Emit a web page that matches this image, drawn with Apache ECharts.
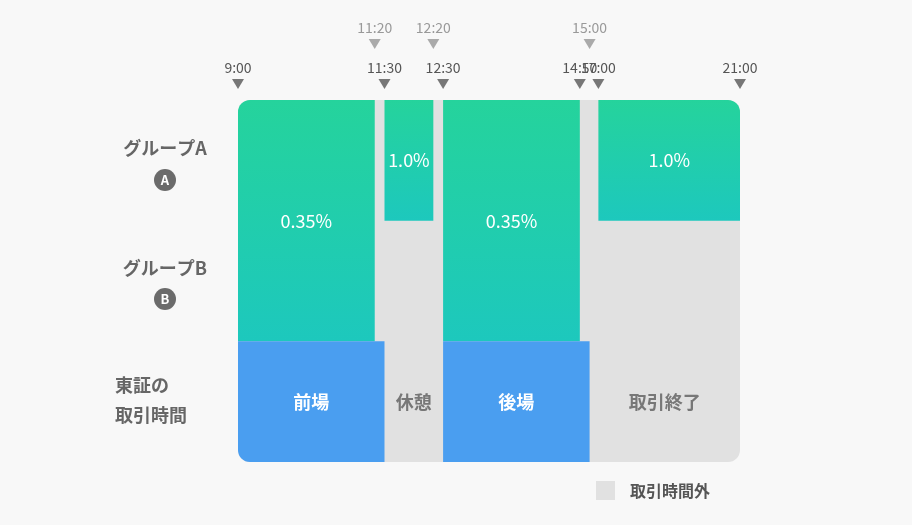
<!DOCTYPE html><html><head><meta charset="utf-8"><script src="https://cdn.jsdelivr.net/npm/echarts@6/dist/echarts.min.js"></script>
<style>html,body{margin:0;background:#f8f8f8}#c{width:912px;height:525px}</style></head><body><div id="c"></div><script>
const greenBars=[["9:00","11:20",0,2,"0.35%"],["11:30","12:20",0,1,"1.0%"],["12:30","14:50",0,2,"0.35%"],["17:00","21:00",0,1,"1.0%"]];
const blueBars=[["9:00","11:30","前場"],["12:30","15:00","後場"]];
const grayLabels=[["11:30","12:30","休憩"],["15:00","21:00","取引終了"]];
const upperTicks=["11:20","12:20","15:00"];
const lowerTicks=["9:00","11:30","12:30","14:50","17:00","21:00"];
const rowLabels=[["グループA","A"],["グループB","B"]];
const m=t=>{const[a,b]=t.split(":");return +a*60+ +b;};
const MIN=540,MAX=1260,R=12;
const FONT='"Noto Sans CJK JP",sans-serif';
const green={type:'linear',x:0,y:0,x2:0,y2:1,global:false,colorStops:[{offset:0,color:'#25d39c'},{offset:1,color:'#1dc8bd'}]};
function rectItem(api,s,e,y0,y1,fill,text,tcolor,weight){
  const p0=api.coord([s,y0]),p1=api.coord([e,y1]);
  const r=[0,0,0,0];
  if(s===MIN&&y0===0)r[0]=R; if(e===MAX&&y0===0)r[1]=R;
  if(e===MAX&&y1===3)r[2]=R; if(s===MIN&&y1===3)r[3]=R;
  return {type:'rect',shape:{x:p0[0],y:p0[1],width:p1[0]-p0[0],height:p1[1]-p0[1],r:r},style:{fill:fill},
    textContent:text?{style:{text:text,fill:tcolor,font:weight+' 18px '+FONT}}:undefined,textConfig:{position:'inside'}};
}
const chart=echarts.init(document.getElementById('c'));
chart.setOption({
  backgroundColor:'#f8f8f8',animation:false,
  grid:{left:238,right:172,top:100,bottom:63},
  xAxis:{type:'value',min:MIN,max:MAX,show:false,breaks:[{start:900,end:1020,gap:9},{start:1080,end:1176,gap:1}],breakArea:{show:false}},
  yAxis:{type:'value',min:0,max:3,inverse:true,show:false},
  series:[
    {type:'custom',data:[[MIN,MAX]],renderItem:(p,api)=>rectItem(api,MIN,MAX,0,3,'#e1e1e1')},
    {type:'custom',data:grayLabels.map(d=>[m(d[0]),m(d[1]),d[2]]),renderItem:(p,api)=>{const d=grayLabels[p.dataIndex];return rectItem(api,m(d[0]),m(d[1]),2,3,'rgba(0,0,0,0)',d[2],'#777','bold');}},
    {type:'custom',data:greenBars.map(d=>[m(d[0]),m(d[1])]),renderItem:(p,api)=>{const d=greenBars[p.dataIndex];return rectItem(api,m(d[0]),m(d[1]),d[2],d[3],green,d[4],'#fff','normal');}},
    {type:'custom',data:blueBars.map(d=>[m(d[0]),m(d[1])]),renderItem:(p,api)=>{const d=blueBars[p.dataIndex];return rectItem(api,m(d[0]),m(d[1]),2,3,'#4a9ef0',d[2],'#fff','bold');}},
    {type:'custom',data:upperTicks.concat(lowerTicks).map(t=>[m(t)]),renderItem:(p,api)=>{
      const all=upperTicks.concat(lowerTicks),t=all[p.dataIndex],up=p.dataIndex<upperTicks.length;
      const x=api.coord([m(t),0])[0],ty=up?45:85;
      return {type:'group',children:[
        {type:'polygon',shape:{points:[[x-6,ty-6],[x+6,ty-6],[x,ty+4]]},style:{fill:up?'#aaa':'#777'}},
        {type:'text',x:x,y:ty-17,style:{text:t,fill:up?'#999':'#555',font:'14px '+FONT,align:'center',verticalAlign:'middle'}}]};
    }}
  ],
  graphic:[
    ...rowLabels.flatMap((r,i)=>[
      {type:'text',x:165,y:148+i*120,style:{text:r[0],fill:'#666',font:'bold 18px '+FONT,align:'center',verticalAlign:'middle'}},
      {type:'circle',shape:{cx:165,cy:180+i*119,r:11},style:{fill:'#6b6b6b'}},
      {type:'text',x:165,y:180+i*119,style:{text:r[1],fill:'#fff',font:'bold 13px '+FONT,align:'center',verticalAlign:'middle'}}]),
    {type:'text',x:115,y:400,style:{text:'東証の\n取引時間',fill:'#666',font:'bold 18px '+FONT,lineHeight:30,verticalAlign:'middle'}},
    {type:'rect',shape:{x:596,y:481,width:19,height:19},style:{fill:'#e1e1e1'}},
    {type:'text',x:630,y:491,style:{text:'取引時間外',fill:'#555',font:'bold 16px '+FONT,verticalAlign:'middle'}}
  ]
});
</script></body></html>
